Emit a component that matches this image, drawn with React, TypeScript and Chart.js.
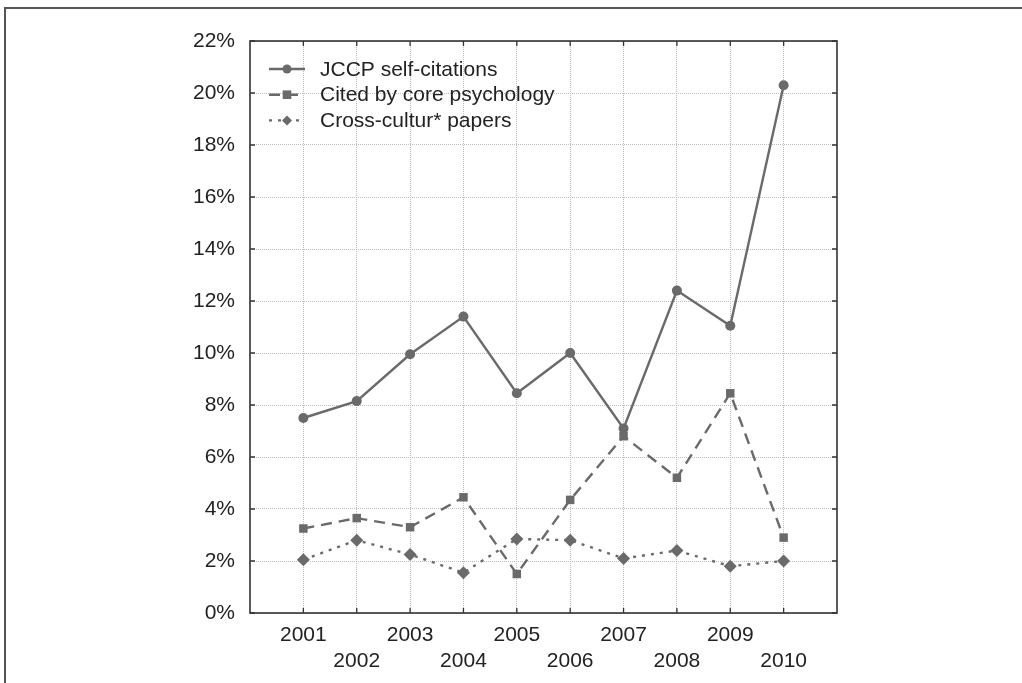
import React, { useEffect, useRef } from "react";
import { Chart, registerables } from "chart.js";

Chart.register(...registerables);

const years = [2001, 2002, 2003, 2004, 2005, 2006, 2007, 2008, 2009, 2010];
const jccpSelf = [7.5, 8.15, 9.95, 11.4, 8.45, 10.0, 7.1, 12.4, 11.05, 20.3];
const citedCore = [3.25, 3.65, 3.3, 4.45, 1.5, 4.35, 6.8, 5.2, 8.45, 2.9];
const crossCultur = [2.05, 2.8, 2.25, 1.55, 2.85, 2.8, 2.1, 2.4, 1.8, 2.0];
const seriesNames = ["JCCP self-citations", "Cited by core psychology", "Cross-cultur* papers"];
const yTicks = [0, 2, 4, 6, 8, 10, 12, 14, 16, 18, 20, 22];

const LINE = "#6a6a6a";
const FONT = "Liberation Sans, Arial, sans-serif";
const FS = 21;

function drawMarker(ctx: CanvasRenderingContext2D, style: string, x: number, y: number, r: number) {
  ctx.beginPath();
  if (style === "circle") {
    ctx.arc(x, y, r, 0, Math.PI * 2);
  } else if (style === "rect") {
    ctx.rect(x - r, y - r, 2 * r, 2 * r);
  } else {
    ctx.moveTo(x, y - r);
    ctx.lineTo(x + r, y);
    ctx.lineTo(x, y + r);
    ctx.lineTo(x - r, y);
    ctx.closePath();
  }
  ctx.fill();
}

const framePlugin = {
  id: "frameTicks",
  beforeDatasetsDraw(chart: any) {
    const { ctx, chartArea, scales } = chart;
    const { left, right, top, bottom } = chartArea;
    ctx.save();
    ctx.strokeStyle = "#333";
    ctx.lineWidth = 1.6;
    ctx.strokeRect(left, top, right - left, bottom - top);
    const tl = 5;
    ctx.lineWidth = 1.3;
    ctx.beginPath();
    years.forEach((yr) => {
      const x = scales.x.getPixelForValue(yr);
      ctx.moveTo(x, bottom);
      ctx.lineTo(x, bottom - tl);
      ctx.moveTo(x, top);
      ctx.lineTo(x, top + tl);
    });
    yTicks.forEach((v) => {
      const y = scales.y.getPixelForValue(v);
      ctx.moveTo(left, y);
      ctx.lineTo(left + tl, y);
      ctx.moveTo(right, y);
      ctx.lineTo(right - tl, y);
    });
    ctx.stroke();
    ctx.restore();
  },
  afterDraw(chart: any) {
    const { ctx, chartArea } = chart;
    const ds = chart.data.datasets;
    ctx.save();
    ctx.font = `${FS}px ${FONT}`;
    ctx.textBaseline = "middle";
    ds.forEach((d: any, i: number) => {
      const y = chartArea.top + 28 + i * 25.7;
      const x0 = chartArea.left + 19;
      const x1 = chartArea.left + 55;
      ctx.strokeStyle = d.borderColor;
      ctx.lineWidth = d.borderWidth;
      ctx.setLineDash(d.borderDash || []);
      ctx.beginPath();
      ctx.moveTo(x0, y);
      ctx.lineTo(x1, y);
      ctx.stroke();
      ctx.setLineDash([]);
      ctx.fillStyle = d.pointBackgroundColor;
      drawMarker(ctx, d.pointStyle, (x0 + x1) / 2, y, d.pointStyle === "rectRot" ? 5 : d.pointStyle === "rect" ? 4.3 : 4.5);
      ctx.fillStyle = "#222";
      ctx.fillText(d.label, chartArea.left + 70, y + 1);
    });
    ctx.restore();
  },
};

export default function App() {
  const ref = useRef<HTMLCanvasElement | null>(null);
  useEffect(() => {
    if (!ref.current) return;
    const mk = (vals: number[]) => years.map((yr, i) => ({ x: yr, y: vals[i] }));
    const chart = new Chart(ref.current, {
      type: "line",
      data: {
        datasets: [
          {
            label: seriesNames[0],
            data: mk(jccpSelf),
            borderColor: LINE,
            borderWidth: 2.4,
            pointStyle: "circle",
            pointRadius: 5,
            pointBackgroundColor: LINE,
            pointBorderWidth: 0,
          },
          {
            label: seriesNames[1],
            data: mk(citedCore),
            borderColor: LINE,
            borderWidth: 2.4,
            borderDash: [11, 7],
            pointStyle: "rect",
            pointRadius: 6,
            pointBackgroundColor: LINE,
            pointBorderWidth: 0,
          },
          {
            label: seriesNames[2],
            data: mk(crossCultur),
            borderColor: LINE,
            borderWidth: 2.4,
            borderDash: [3, 6],
            pointStyle: "rectRot",
            pointRadius: 6.5,
            pointBackgroundColor: LINE,
            pointBorderWidth: 0,
          },
        ] as any,
      },
      options: {
        animation: false,
        responsive: false,
        devicePixelRatio: 1,
        layout: { padding: { left: 0, top: 41, right: 185, bottom: 0 } },
        plugins: { legend: { display: false }, tooltip: { enabled: false } },
        scales: {
          x: {
            type: "linear",
            min: 2000,
            max: 2011,
            afterFit: (s: any) => {
              s.height = 70;
            },
            afterBuildTicks: (s: any) => {
              s.ticks = years.map((v) => ({ value: v }));
            },
            ticks: {
              padding: 10,
              autoSkip: false,
              maxRotation: 0,
              color: "#222",
              font: { family: FONT, size: FS },
              callback: (v: any) => (Number(v) % 2 === 1 ? [String(v)] : ["", String(v)]),
            },
            grid: {
              drawTicks: false,
              color: "#bdbdbd",
              lineWidth: 1,
            },
            border: { display: false, dash: [1, 1] },
          },
          y: {
            min: 0,
            max: 22,
            afterFit: (s: any) => {
              s.width = 250;
            },
            afterBuildTicks: (s: any) => {
              s.ticks = yTicks.map((v) => ({ value: v }));
            },
            ticks: {
              padding: 15,
              color: "#222",
              font: { family: FONT, size: FS },
              callback: (v: any) => `${v}%`,
            },
            grid: {
              drawTicks: false,
              color: "#bdbdbd",
              lineWidth: 1,
            },
            border: { display: false, dash: [1, 1] },
          },
        },
      } as any,
      plugins: [framePlugin],
    });
    return () => chart.destroy();
  }, []);
  return (
    <div style={{ position: "absolute", left: 0, top: 0, width: 1022, height: 683, background: "#fff" }}>
      <div
        style={{
          position: "absolute",
          left: 4,
          top: 7,
          right: 0,
          bottom: 0,
          borderTop: "2px solid #555",
          borderLeft: "2px solid #555",
        }}
      />
      <canvas ref={ref} width={1022} height={683} style={{ position: "absolute", left: 0, top: 0, display: "block" }} />
    </div>
  );
}
